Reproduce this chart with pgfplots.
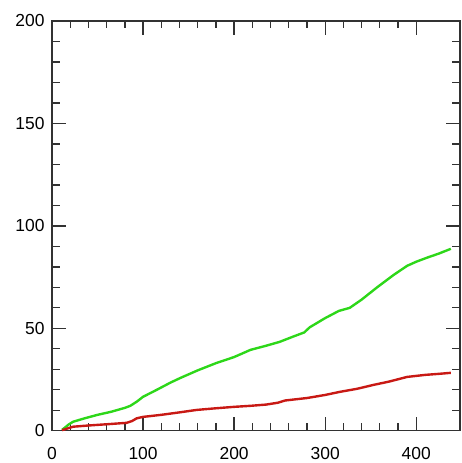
\documentclass[border=0pt]{standalone}
\usepackage{pgfplots}
\pgfplotsset{compat=1.18}
\usepackage{fontspec}
\setmainfont{Liberation Sans}
\definecolor{gline}{RGB}{45,215,25}
\definecolor{rline}{RGB}{200,25,20}
\definecolor{axc}{RGB}{50,50,50}
\begin{document}
\begin{tikzpicture}
\begin{axis}[
  scale only axis,
  width=408bp, height=410bp,
  xmin=0, xmax=448, ymin=0, ymax=200,
  xtick={0,100,200,300,400}, ytick={0,50,100,150,200},
  minor x tick num=4, minor y tick num=4,
  tick align=inside, tick pos=both,
  major tick length=14bp, minor tick length=7.5bp,
  every tick/.style={axc, line width=1.3pt},
  axis line style={axc, line width=1.3pt},
  tick label style={font=\fontsize{17.5}{19}\selectfont},
  /pgf/number format/assume math mode=true,
  xticklabel style={yshift=-13bp},
  yticklabel style={xshift=-4bp},
  clip=false,
]
\addplot[gline, line width=2.4pt] coordinates {
(11,0.5) (14,1.5) (18,3) (23,4.4) (35,6) (50,7.8) (65,9.3) (80,11.2) (86,12.2) (93,14.2) (100,16.6)
(115,20) (130,23.5) (141,25.8) (160,29.5) (180,33) (200,36) (218,39.5) (235,41.5) (250,43.4)
(265,46) (277,48) (283,50.5) (300,55) (315,58.5) (327,60) (340,64) (357,70) (375,76) (390,80.5)
(400,82.5) (412,84.5) (425,86.5) (438,88.8)
};
\addplot[rline, line width=2.4pt] coordinates {
(11,0.3) (16,1) (23,2) (40,2.6) (60,3.2) (82,3.9) (88,4.8) (93,6.1) (100,6.8) (120,7.8)
(140,9) (159,10.2) (180,11) (200,11.7) (218,12.2) (235,12.8) (248,13.7) (256,14.8) (270,15.5)
(280,16) (300,17.5) (316,19) (335,20.5) (353,22.4) (370,24) (390,26.3) (410,27.3) (425,27.8) (438,28.3)
};
\path (rel axis cs:-0.1275,-0.078) rectangle (rel axis cs:1.0049,1.051);
\end{axis}
\end{tikzpicture}
\end{document}
